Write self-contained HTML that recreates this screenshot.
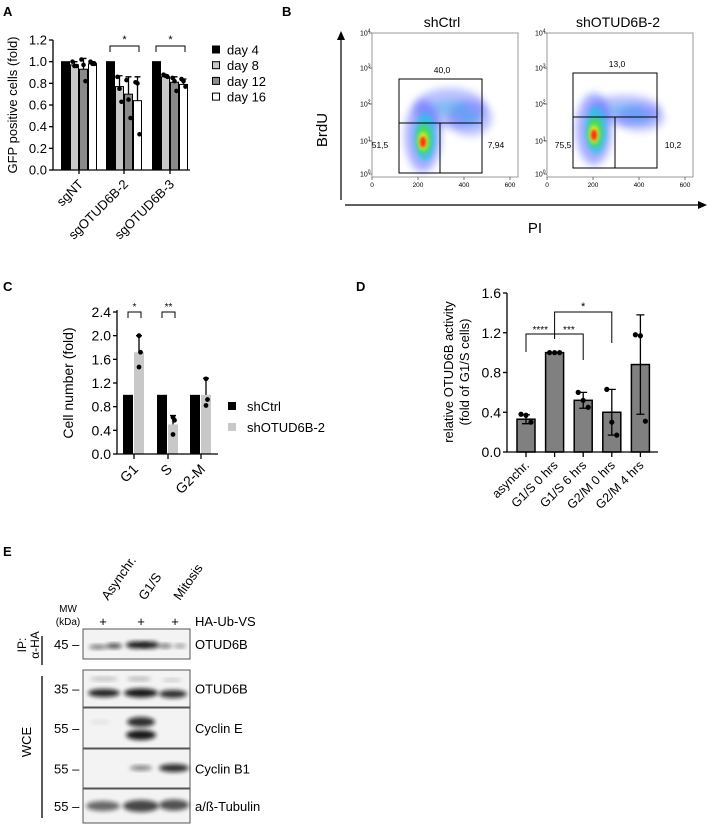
<!DOCTYPE html>
<html><head><meta charset="utf-8">
<style>
html,body{margin:0;padding:0;background:#fff;}
svg{display:block;font-family:"Liberation Sans",Arial,sans-serif;}
</style></head>
<body>
<svg id="fig" width="708" height="824" viewBox="0 0 708 824" xmlns="http://www.w3.org/2000/svg">
<defs>
<filter id="blur2" x="-50%" y="-50%" width="200%" height="200%"><feGaussianBlur stdDeviation="2"/></filter>
<filter id="blur4" x="-50%" y="-50%" width="200%" height="200%"><feGaussianBlur stdDeviation="4"/></filter>
<filter id="blur1" x="-50%" y="-50%" width="200%" height="200%"><feGaussianBlur stdDeviation="1.2"/></filter>
</defs>
<g font-weight="bold" font-size="13">
<text x="3" y="16">A</text>
<text x="282" y="16">B</text>
<text x="3" y="291">C</text>
<text x="356" y="291">D</text>
<text x="3" y="556">E</text>
</g>
<g id="panelA"></g>
<g id="panelB">
<text x="442" y="27" font-size="14" text-anchor="middle">shCtrl</text>
<text x="618" y="27" font-size="14" text-anchor="middle">shOTUD6B-2</text>
<line x1="341" y1="200" x2="341" y2="38" stroke="#000" stroke-width="1.2"/>
<polygon points="341,31 337,40 345,40" fill="#000"/>
<line x1="345" y1="205" x2="700" y2="205" stroke="#000" stroke-width="1.2"/>
<polygon points="707,205 698,201 698,209" fill="#000"/>
<text x="327" y="130" font-size="15" text-anchor="middle" transform="rotate(-90 327 130)">BrdU</text>
<text x="535" y="233" font-size="15" text-anchor="middle">PI</text>
</g>
<g id="panelC"></g>
<g id="panelD"></g>
<g id="panelE"></g>
</svg>
<script>
// ---------- Panel A data ----------
const aGroups = ["sgNT","sgOTUD6B-2","sgOTUD6B-3"];
const aSeries = ["day 4","day 8","day 12","day 16"];
const aDay4 = [1.0,1.0,1.0];
const aDay8 = [0.97,0.77,0.86];
const aDay12 = [0.93,0.70,0.81];
const aDay16 = [0.98,0.64,0.79];
const aErr8 = [0.03,0.10,0.02];
const aErr12 = [0.10,0.16,0.05];
const aErr16 = [0.02,0.22,0.05];
const aPts8 = [[1.0,0.96,0.96],[0.86,0.75,0.63],[0.88,0.87,0.86]];
const aPts12 = [[1.02,0.97,0.82],[0.83,0.65,0.48],[0.85,0.82,0.73]];
const aPts16 = [[1.0,0.98,0.98],[0.81,0.80,0.33],[0.84,0.82,0.77]];
const aTicks = ["0.0","0.2","0.4","0.6","0.8","1.0","1.2"];
// ---------- Panel C data ----------
const cGroups = ["G1","S","G2-M"];
const cCtrl = [1.0,1.0,1.0];
const cSh = [1.72,0.50,1.0];
const cShErr = [0.28,0.15,0.28];
const cPts = [[2.0,1.72,1.47],[0.62,0.57,0.33],[1.27,0.92,0.82]];
const cTicks = ["0.0","0.4","0.8","1.2","1.6","2.0","2.4"];
// ---------- Panel D data ----------
const dCats = ["asynchr.","G1/S 0 hrs","G1/S 6 hrs","G2/M 0 hrs","G2/M 4 hrs"];
const dVals = [0.33,1.0,0.52,0.40,0.88];
const dErr = [0.045,0.0,0.08,0.23,0.50];
const dPts = [[0.38,0.37,0.30],[1.0,1.0,1.0],[0.60,0.52,0.45],[0.63,0.30,0.17],[1.18,1.17,0.31]];
const dTicks = ["0.0","0.4","0.8","1.2","1.6"];

const NS="http://www.w3.org/2000/svg";
function mk(parent,tag,attrs,text){const e=document.createElementNS(NS,tag);for(const k in attrs)e.setAttribute(k,attrs[k]);if(text!==undefined)e.textContent=text;parent.appendChild(e);return e;}

// ===== Panel A =====
(function(){
const g=document.getElementById('panelA');
const x0=53,xEnd=190,yTop=40,yBot=170,maxV=1.2;
const y=v=>yBot-(v/maxV)*(yBot-yTop);
const gStart=[61,106,152], bw=9;
const fills=["#000","#c8c8c8","#8a8a8a","#fff"];
const vals=[aDay4,aDay8,aDay12,aDay16];
const errs=[null,aErr8,aErr12,aErr16];
const pts=[null,aPts8,aPts12,aPts16];
for(let i=0;i<aGroups.length;i++){
 for(let s=0;s<4;s++){
  const bx=gStart[i]+s*bw, v=vals[s][i];
  const r=mk(g,'rect',{x:bx+0.5,y:y(v),width:bw-1,height:yBot-y(v),fill:fills[s],stroke:'#000','stroke-width':1});
  
  
  const cx=bx+bw/2;
  if(errs[s]){
   const e=errs[s][i];
   const l=mk(g,'path',{d:`M${cx},${y(v)} V${y(v+e)} M${cx-3},${y(v+e)} H${cx+3}`,stroke:'#000','stroke-width':1.3,fill:'none'});
   
   
   pts[s][i].forEach((p,k)=>{
    const c=mk(g,'circle',{cx:cx+(k-1)*2,cy:y(p),r:2.3,fill:'#000'});
    
    
   });
  }
 }
 const tc=gStart[i]+2*bw;
 mk(g,'line',{x1:tc,y1:yBot,x2:tc,y2:yBot+4,stroke:'#000','stroke-width':1.3});
 const t=mk(g,'text',{x:tc+5,y:yBot+15,'font-size':13,'text-anchor':'end',transform:`rotate(-45 ${tc+5} ${yBot+15})`},aGroups[i]);
 
 
}
mk(g,'path',{d:`M${x0},${yTop} V${yBot} H${xEnd}`,stroke:'#000','stroke-width':1.3,fill:'none'});
aTicks.forEach(tk=>{const v=parseFloat(tk);mk(g,'line',{x1:x0-4,y1:y(v),x2:x0,y2:y(v),stroke:'#000','stroke-width':1.3});
 const t=mk(g,'text',{x:x0-6,y:y(v)+4.5,'font-size':13,'text-anchor':'end'},tk);
 
 });
const yl=mk(g,'text',{x:17,y:105,'font-size':13,'text-anchor':'middle',transform:'rotate(-90 17 105)'},'GFP positive cells (fold)');


[[110,139],[156,185]].forEach(b=>{mk(g,'path',{d:`M${b[0]},52 V46 H${b[1]} V52`,stroke:'#000','stroke-width':1,fill:'none'});
 mk(g,'text',{x:(b[0]+b[1])/2,y:43,'font-size':11,'text-anchor':'middle'},'*');});
aSeries.forEach((s,i)=>{const yy=50+i*15.7;
 const r=mk(g,'rect',{x:212.5,y:yy-4,width:7,height:7,fill:fills[i],stroke:'#000','stroke-width':1});
 
 
 const t=mk(g,'text',{x:227,y:yy+4.5,'font-size':13},s);
 
 });
})();

// ===== Panel B (flow plots) =====
(function(){
const g=document.getElementById('panelB');
const plots=[{x:372,w:146,gate:{l:399,r:482,t:79,h:123,b:173,v:440},lab:[["40,0",442,73],["51,5",380,148],["7,94",496,148]],blob:[423,142],sc:[[450,108,32,16],[470,118,18,14]]},
 {x:547,w:146,gate:{l:573,r:657,t:73,h:117,b:168,v:615},lab:[["13,0",617,67],["75,5",563,148],["10,2",673,148]],blob:[594,135],sc:[[625,110,32,11],[640,118,20,9]]}];
const yt=[[174,"0"],[141,"1"],[104,"2"],[68,"3"],[33,"4"]];
plots.forEach((p,pi)=>{
 const gg=mk(g,'g',{});
 
 
 mk(gg,'rect',{x:p.x,y:33,width:p.w,height:144,fill:'#fff',stroke:'#999','stroke-width':1});
 yt.forEach(t=>{mk(gg,'line',{x1:p.x-3,y1:t[0],x2:p.x,y2:t[0],stroke:'#555','stroke-width':0.8});
  const tx=mk(gg,'text',{x:p.x-12,y:t[0]+2.5,'font-size':7},'10');
  mk(tx,'tspan',{dy:-3,'font-size':5},t[1]);});
 ["0","200","400","600"].forEach((t,i)=>{const xx=p.x+i*46;mk(gg,'line',{x1:xx,y1:177,x2:xx,y2:180,stroke:'#555','stroke-width':0.8});
  mk(gg,'text',{x:xx,y:187,'font-size':6.5,'text-anchor':'middle'},t);});
 const [bx,by]=p.blob;
 p.sc.forEach(s=>mk(gg,'ellipse',{cx:s[0],cy:s[1],rx:s[2]+4,ry:s[3]+4,fill:'#4050ff',opacity:0.35,filter:'url(#blur4)'}));
 p.sc.forEach(s=>mk(gg,'ellipse',{cx:s[0],cy:s[1],rx:s[2]*0.6,ry:s[3]*0.5,fill:'#20b0e0',opacity:0.35,filter:'url(#blur4)'}));
 mk(gg,'ellipse',{cx:bx,cy:by-6,rx:18,ry:36,fill:'#3a4cff',opacity:0.45,filter:'url(#blur4)'});
 mk(gg,'ellipse',{cx:bx+2,cy:by-5,rx:11,ry:24,fill:'#20c8e0',opacity:0.7,filter:'url(#blur2)'});
 mk(gg,'ellipse',{cx:bx+1,cy:by-3,rx:7,ry:15,fill:'#40e040',opacity:0.85,filter:'url(#blur2)'});
 mk(gg,'ellipse',{cx:bx,cy:by-1,rx:4.5,ry:9,fill:'#f0f020',filter:'url(#blur2)'});
 mk(gg,'ellipse',{cx:bx,cy:by,rx:3,ry:5.5,fill:'#ff3010',filter:'url(#blur1)'});
 const q=p.gate;
 mk(gg,'path',{d:`M${q.l},${q.t} H${q.r} V${q.b} H${q.l} Z M${q.l},${q.h} H${q.r} M${q.v},${q.h} V${q.b}`,stroke:'#000','stroke-width':1,fill:'none'});
 p.lab.forEach(l=>{const t=mk(gg,'text',{x:l[1],y:l[2],'font-size':8.5,'text-anchor':'middle'},l[0]);
  
  });
});
})();

// ===== Panel C =====
(function(){
const g=document.getElementById('panelC');
const x0=117,xEnd=218,yTop=312,yBot=454,maxV=2.4;
const y=v=>yBot-(v/maxV)*(yBot-yTop);
const gx=[123,157,190], bw=11;
for(let i=0;i<cGroups.length;i++){
 const b1=mk(g,'rect',{x:gx[i],y:y(cCtrl[i]),width:bw-1,height:yBot-y(cCtrl[i]),fill:'#000'});
 
 
 const sx=gx[i]+bw;
 const b2=mk(g,'rect',{x:sx,y:y(cSh[i]),width:bw-1,height:yBot-y(cSh[i]),fill:'#c8c8c8'});
 
 
 const cx=sx+(bw-1)/2, top=cSh[i]+cShErr[i];
 mk(g,'path',{d:`M${cx},${y(cSh[i])} V${y(top)} M${cx-3},${y(top)} H${cx+3}`,stroke:'#000','stroke-width':1.3,fill:'none'});
 cPts[i].forEach((p,k)=>{const c=mk(g,'circle',{cx:cx+(k===1?1.5:0),cy:y(p),r:2.4,fill:'#000'});
  
  });
 const tc=gx[i]+bw;
 mk(g,'line',{x1:tc,y1:yBot,x2:tc,y2:yBot+5,stroke:'#000','stroke-width':1.3});
 const t=mk(g,'text',{x:tc+5,y:yBot+16,'font-size':14,'text-anchor':'end',transform:`rotate(-45 ${tc+5} ${yBot+16})`},cGroups[i]);
 
 
}
mk(g,'path',{d:`M${x0},${yTop-2} V${yBot} H${xEnd}`,stroke:'#000','stroke-width':1.3,fill:'none'});
cTicks.forEach(tk=>{const v=parseFloat(tk);mk(g,'line',{x1:x0-4,y1:y(v),x2:x0,y2:y(v),stroke:'#000','stroke-width':1.3});
 const t=mk(g,'text',{x:x0-6,y:y(v)+5,'font-size':14,'text-anchor':'end'},tk);
 
 });
const yl=mk(g,'text',{x:73,y:383,'font-size':14,'text-anchor':'middle',transform:'rotate(-90 73 383)'},'Cell number (fold)');


[[128,141,'*'],[162,175,'**']].forEach(b=>{mk(g,'path',{d:`M${b[0]},318 V312 H${b[1]} V318`,stroke:'#000','stroke-width':1,fill:'none'});
 mk(g,'text',{x:(b[0]+b[1])/2,y:310,'font-size':10,'text-anchor':'middle'},b[2]);});
[["shCtrl","#000",406],["shOTUD6B-2","#c8c8c8",427]].forEach(l=>{
 const r=mk(g,'rect',{x:228,y:l[2]-4,width:8,height:8,fill:l[1]});
 
 
 const t=mk(g,'text',{x:247,y:l[2]+5,'font-size':13},l[0]);
 
 });
})();

// ===== Panel D =====
(function(){
const g=document.getElementById('panelD');
const x0=507,xEnd=658,yTop=293,yBot=452,maxV=1.6;
const y=v=>yBot-(v/maxV)*(yBot-yTop);
const step=28.6, first=517, bw=18;
dCats.forEach((c,i)=>{
 const bx=first+i*step, cx=bx+bw/2;
 const r=mk(g,'rect',{x:bx,y:y(dVals[i]),width:bw,height:yBot-y(dVals[i]),fill:'#808080',stroke:'#000','stroke-width':1.5});
 
 
 const lo=dVals[i]-dErr[i], hi=dVals[i]+dErr[i];
 if(dErr[i]>0){mk(g,'path',{d:`M${cx},${y(lo)} V${y(hi)} M${cx-4},${y(lo)} H${cx+4} M${cx-4},${y(hi)} H${cx+4}`,stroke:'#000','stroke-width':1.3,fill:'none'});}
 dPts[i].forEach((p,k)=>{const pc=mk(g,'circle',{cx:cx+(k-1)*5,cy:y(p),r:2.6,fill:'#000'});
  
  });
 mk(g,'line',{x1:cx,y1:yBot,x2:cx,y2:yBot+5,stroke:'#000','stroke-width':1.3});
 const t=mk(g,'text',{x:cx+4,y:yBot+14,'font-size':12.5,'text-anchor':'end',transform:`rotate(-45 ${cx+4} ${yBot+14})`},c);
 
 
});
mk(g,'path',{d:`M${x0},${yTop} V${yBot} H${xEnd}`,stroke:'#000','stroke-width':1.3,fill:'none'});
dTicks.forEach(tk=>{const v=parseFloat(tk);mk(g,'line',{x1:x0-4,y1:y(v),x2:x0,y2:y(v),stroke:'#000','stroke-width':1.3});
 const t=mk(g,'text',{x:x0-6,y:y(v)+5,'font-size':14,'text-anchor':'end'},tk);
 
 });
const yl=mk(g,'text',{'font-size':13,'text-anchor':'middle',transform:'translate(453 372) rotate(-90)'});


mk(yl,'tspan',{x:0,y:0},'relative OTUD6B activity');
mk(yl,'tspan',{x:0,y:16},'(fold of G1/S cells)');
const c=i=>first+i*step+bw/2;
mk(g,'path',{d:`M${c(0)},352 V334 H${c(2)} V360 M${c(1)},334 V339`,stroke:'#000','stroke-width':1,fill:'none'});
mk(g,'path',{d:`M${c(1)},334 V312 H${c(3)} V343`,stroke:'#000','stroke-width':1,fill:'none'});
mk(g,'text',{x:(c(0)+c(1))/2,y:333,'font-size':10,'text-anchor':'middle'},'****');
mk(g,'text',{x:(c(1)+c(2))/2,y:333,'font-size':10,'text-anchor':'middle'},'***');
mk(g,'text',{x:(c(1)+c(3))/2,y:310,'font-size':11,'text-anchor':'middle'},'*');
})();

// ===== Panel E (blot) =====
(function(){
const g=document.getElementById('panelE');
[["Asynchr.",108],["G1/S",145],["Mitosis",180]].forEach(l=>{
 const t=mk(g,'text',{x:l[1],y:601,'font-size':13,transform:`rotate(-55 ${l[1]} 601)`},l[0]);
 
 });
mk(g,'text',{x:68,y:612,'font-size':10,'text-anchor':'middle'},'MW');
mk(g,'text',{x:68,y:625,'font-size':10,'text-anchor':'middle'},'(kDa)');
[103,141,175].forEach(x=>mk(g,'text',{x:x,y:626,'font-size':13,'text-anchor':'middle'},'+'));
mk(g,'text',{x:195,y:626,'font-size':13},'HA-Ub-VS');
const boxes=[[629,659,"OTUD6B","45"],[670,707,"OTUD6B","35"],[708,748,"Cyclin E","55"],[749,788,"Cyclin B1","55"],[789,823,"a/ß-Tubulin","55"]];
boxes.forEach((b,i)=>{
 const r=mk(g,'rect',{x:83,y:b[0],width:107,height:b[1]-b[0],fill:'#f3f3f3',stroke:'#555','stroke-width':1});
 
 
 const my=(b[0]+b[1])/2;
 const t=mk(g,'text',{x:195,y:my+5,'font-size':13},b[2]);
 
 
 mk(g,'text',{x:54,y:my+5,'font-size':13},b[3]+' –');
});
function band(cx,cy,rx,ry,op){mk(g,'ellipse',{cx:cx,cy:cy,rx:rx,ry:ry,fill:'#111',opacity:op,filter:'url(#blur2)'});}
band(98,647,9,2.2,0.55);band(114,646,8,2.5,0.75);band(137,645,11,3.5,0.95);band(150,645,9,3.5,0.9);band(165,646,7,2.2,0.55);band(180,646,6,2,0.4);
band(104,679,14,1.8,0.25);band(139,679,12,1.8,0.3);band(172,680,10,1.5,0.2);
band(104,693,16,4,0.9);band(141,693,17,4.5,0.95);band(173,694,14,4,0.85);
band(141,722,14,5,0.85);band(141,735,15,5,0.95);band(100,722,10,2,0.08);
band(141,768,11,2.5,0.5);band(174,768,15,4,0.85);
band(103,806,17,5,0.6);band(141,806,18,6,0.75);band(174,805,15,5.5,0.7);
mk(g,'text',{'font-size':12,'text-anchor':'middle',transform:'translate(30 645) rotate(-90)'}).innerHTML='<tspan x="0" y="-4">IP:</tspan><tspan x="0" y="9">α-HA</tspan>';
mk(g,'line',{x1:42,y1:636,x2:42,y2:665,stroke:'#000','stroke-width':1.3});
mk(g,'text',{x:0,y:0,'font-size':13,'text-anchor':'middle',transform:'translate(31 742) rotate(-90)'},'WCE');
mk(g,'line',{x1:42,y1:676,x2:42,y2:818,stroke:'#000','stroke-width':1.3});
})();
</script>
</body></html>
